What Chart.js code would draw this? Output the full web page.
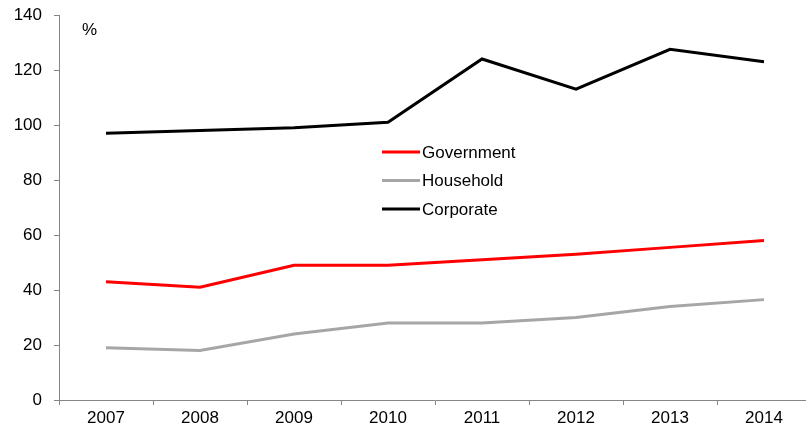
<!DOCTYPE html>
<html>
<head>
<meta charset="utf-8">
<script src="https://cdn.jsdelivr.net/npm/chart.js@4/dist/chart.umd.min.js"></script>
<style>
  html, body { margin: 0; padding: 0; background: #fff; overflow: hidden; }
  #wrap { width: 812px; height: 429px; position: relative; }
</style>
</head>
<body>
<div id="wrap"><canvas id="c" width="812" height="429"></canvas></div>
<script>
// Debt ratios by sector, % (2007-2014)
const years = ['2007', '2008', '2009', '2010', '2011', '2012', '2013', '2014'];
const government = [43, 41, 49, 49, 51, 53, 55.5, 58];
const household = [19, 18, 24, 28, 28, 30, 34, 36.5];
const corporate = [97, 98, 99, 101, 124, 113, 127.5, 123];
const yTicks = [0, 20, 40, 60, 80, 100, 120, 140];

const FONT = '"Liberation Sans", Arial, sans-serif';
const AXIS = '#868686';

// legend drawn inside the plot area, plus the "%" unit label
const insideLegend = {
  id: 'insideLegend',
  afterDraw(chart) {
    const ctx = chart.ctx;
    const a = chart.chartArea;
    ctx.save();
    ctx.font = '17px ' + FONT;
    ctx.textBaseline = 'middle';
    ctx.fillStyle = '#000';
    ctx.textAlign = 'left';
    ctx.fillText('%', a.left + 23, a.top + 15);
    const x0 = 382, x1 = 420, y0 = 152, step = 28.5;
    chart.data.datasets.forEach((ds, i) => {
      const y = y0 + i * step;
      ctx.strokeStyle = ds.borderColor;
      ctx.lineWidth = 3;
      ctx.beginPath();
      ctx.moveTo(x0, y);
      ctx.lineTo(x1, y);
      ctx.stroke();
      ctx.fillStyle = '#000';
      ctx.fillText(ds.label, x1 + 2, y + 1);
    });
    ctx.restore();
  }
};

new Chart(document.getElementById('c'), {
  type: 'line',
  data: {
    labels: years,
    datasets: [
      { label: 'Government', data: government, borderColor: '#FF0000' },
      { label: 'Household', data: household, borderColor: '#A6A6A6' },
      { label: 'Corporate', data: corporate, borderColor: '#000000' }
    ]
  },
  options: {
    responsive: false,
    animation: false,
    layout: { padding: { top: 15, right: 1, left: 0, bottom: 0 } },
    elements: {
      line: { borderWidth: 3, tension: 0, borderCapStyle: 'butt', borderJoinStyle: 'miter' },
      point: { radius: 0 }
    },
    plugins: { legend: { display: false }, tooltip: { enabled: false } },
    scales: {
      x: {
        type: 'category',
        offset: true,
        grid: { display: true, offset: true, drawOnChartArea: false, color: AXIS, tickLength: 5 },
        border: { color: AXIS, width: 1 },
        ticks: { color: '#000', font: { family: FONT, size: 17 }, padding: 3, maxRotation: 0 },
        afterFit(s) { s.height = 29; s.paddingLeft = 0; s.paddingRight = 0; }
      },
      y: {
        min: 0,
        max: 140,
        afterBuildTicks(s) { s.ticks = yTicks.map(v => ({ value: v })); },
        grid: { display: true, drawOnChartArea: false, color: AXIS, tickLength: 5 },
        border: { color: AXIS, width: 1 },
        ticks: { color: '#000', font: { family: FONT, size: 17 }, padding: 12 },
        afterFit(s) { s.width = 59; s.paddingTop = 0; s.paddingBottom = 0; }
      }
    }
  },
  plugins: [insideLegend]
});
</script>
</body>
</html>
